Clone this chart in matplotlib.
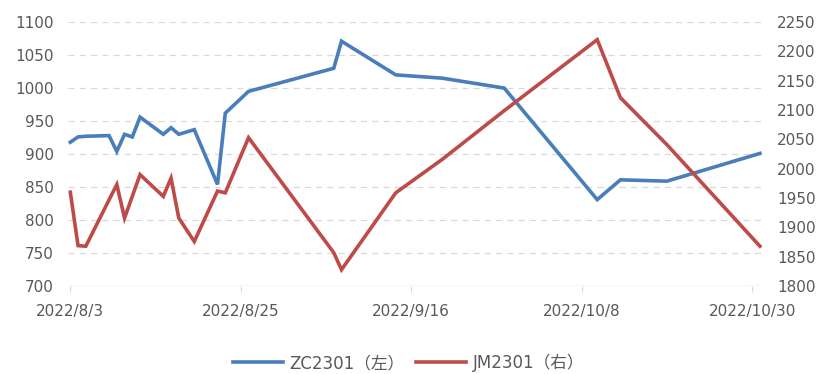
import numpy as np
import matplotlib.pyplot as plt
import matplotlib.dates as mdates

plt.rcParams['font.family'] = ['DejaVu Sans', 'Noto Sans CJK SC']

# trading dates and settlement prices
dates = ["2022-08-03", "2022-08-04", "2022-08-05", "2022-08-08", "2022-08-09",
         "2022-08-10", "2022-08-11", "2022-08-12", "2022-08-15", "2022-08-16",
         "2022-08-17", "2022-08-19", "2022-08-22", "2022-08-23", "2022-08-26",
         "2022-09-06", "2022-09-07", "2022-09-14", "2022-09-20", "2022-09-28",
         "2022-10-10", "2022-10-13", "2022-10-19", "2022-10-31"]
zc2301 = [918, 926, 927, 928, 904, 930, 926, 956, 930, 940,
          930, 937, 854, 962, 995, 1030, 1071, 1020, 1015, 1000,
          831, 861, 859, 901]
jm2301 = [1960, 1869, 1868, 1947, 1973, 1916, 1953, 1990, 1953, 1984,
          1916, 1876, 1962, 1959, 2053, 1857, 1828, 1959, 2016, 2099,
          2220, 2121, 2041, 1868]

tick_dates = ["2022-08-03", "2022-08-25", "2022-09-16", "2022-10-08", "2022-10-30"]
tick_labels = ["2022/8/3", "2022/8/25", "2022/9/16", "2022/10/8", "2022/10/30"]
left_ticks = np.arange(700, 1101, 50)
right_ticks = np.arange(1800, 2251, 50)

blue = "#4a7ebb"
red = "#be4b48"
grid_c = "#d9d9d9"
text_c = "#595959"

x = mdates.date2num(np.array(dates, dtype="datetime64[D]"))
xt = mdates.date2num(np.array(tick_dates, dtype="datetime64[D]"))

fig = plt.figure(figsize=(8.24, 3.74), dpi=100)
ax = fig.add_axes([0.0825, 0.235, 0.8435, 0.706])
ax2 = ax.twinx()

ax.set_ylim(700, 1100)
ax2.set_ylim(1800, 2250)
ax.set_xlim(xt[0] - 0.3, x[-1] + 0.4)

for v in left_ticks[1:]:
    ax.axhline(v, color=grid_c, lw=0.9, dashes=(5, 4), zorder=0)
ax.axhline(700, color=grid_c, lw=1.0, zorder=0)

l1, = ax.plot(x, zc2301, color=blue, lw=2.6, solid_joinstyle="miter", zorder=3)
l2, = ax2.plot(x, jm2301, color=red, lw=2.6, solid_joinstyle="miter", zorder=3)

for a in (ax, ax2):
    for s in a.spines.values():
        s.set_visible(False)
    a.tick_params(axis="y", length=0, labelsize=11, colors=text_c, pad=10)

ax.set_yticks(left_ticks)
ax2.set_yticks(right_ticks)
ax.set_xticks(xt)
ax.set_xticklabels(tick_labels)
ax.tick_params(axis="x", length=4, color=grid_c, labelsize=11, labelcolor=text_c, pad=9)

fig.legend([l1, l2], ["ZC2301（左）", "JM2301（右）"], loc="center",
           bbox_to_anchor=(0.496, 0.03), ncol=2, frameon=False,
           labelcolor=text_c, handlelength=3.0,
           handletextpad=0.4, columnspacing=0.7,
           prop={"family": ["DejaVu Sans", "Noto Sans CJK SC"], "size": 12})

fig.savefig("out.png", dpi=100)
